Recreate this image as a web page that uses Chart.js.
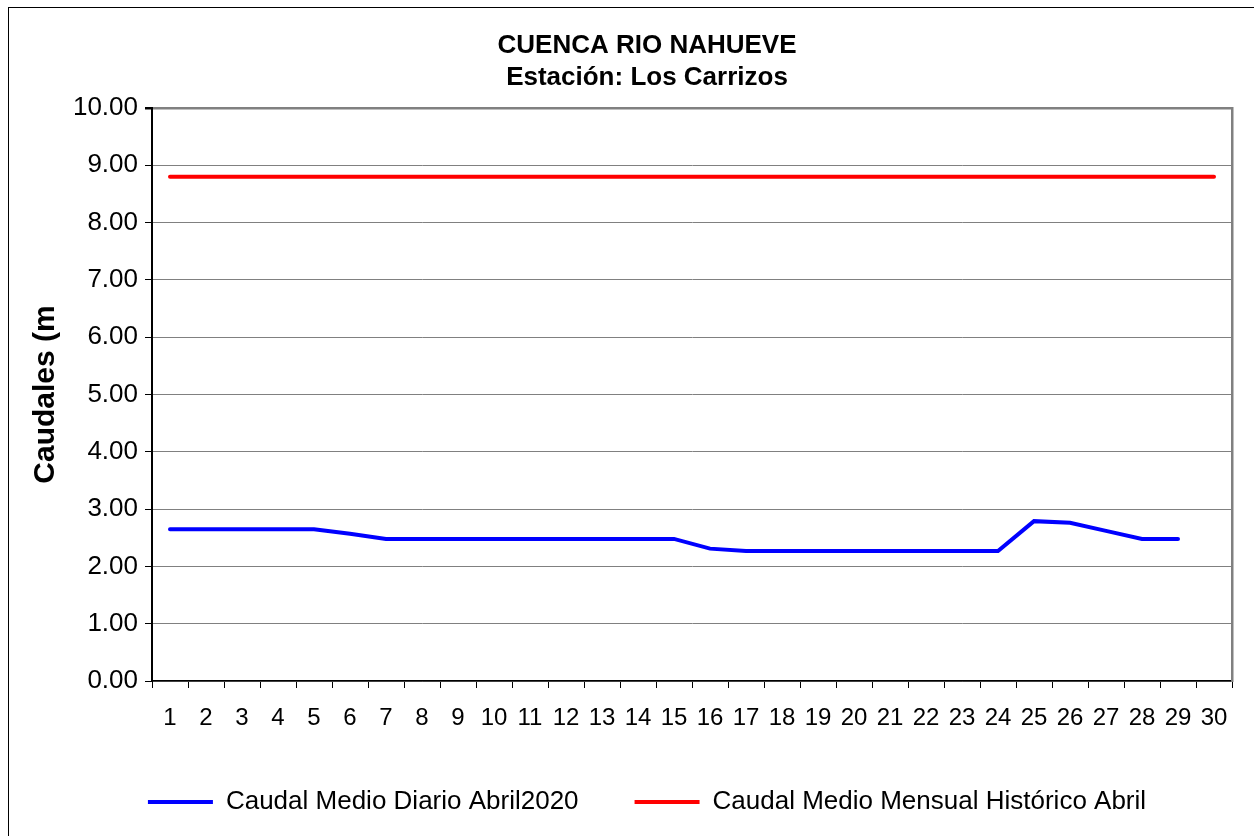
<!DOCTYPE html>
<html>
<head>
<meta charset="utf-8">
<script src="https://cdn.jsdelivr.net/npm/chart.js@4.4.1/dist/chart.umd.min.js"></script>
<style>
  html, body { margin: 0; padding: 0; background: #fff; }
  #wrap { position: relative; width: 1254px; height: 836px; overflow: hidden; }
  #chart { position: absolute; left: 0; top: 0; }
  #frame { position: absolute; left: 8px; top: 7px; width: 1300px; height: 900px; border: 1px solid #000; pointer-events: none; }
</style>
</head>
<body>
<div id="wrap">
  <canvas id="chart" width="1254" height="836"></canvas>
  <div id="frame"></div>
</div>
<script>
const titulo = ['CUENCA RIO NAHUEVE', 'Estación: Los Carrizos'];
const tituloEje = 'Caudales (m';

const dias = ['1', '2', '3', '4', '5', '6', '7', '8', '9', '10',
  '11', '12', '13', '14', '15', '16', '17', '18', '19', '20',
  '21', '22', '23', '24', '25', '26', '27', '28', '29', '30'];

// caudal medio diario abril 2020 (dia 30 sin dato)
const caudalDiario = [2.65, 2.65, 2.65, 2.65, 2.65, 2.57, 2.48, 2.48, 2.48, 2.48,
  2.48, 2.48, 2.48, 2.48, 2.48, 2.31, 2.27, 2.27, 2.27, 2.27,
  2.27, 2.27, 2.27, 2.27, 2.79, 2.76, 2.62, 2.48, 2.48, null];

const caudalHistorico = [8.80, 8.80, 8.80, 8.80, 8.80, 8.80, 8.80, 8.80, 8.80, 8.80,
  8.80, 8.80, 8.80, 8.80, 8.80, 8.80, 8.80, 8.80, 8.80, 8.80,
  8.80, 8.80, 8.80, 8.80, 8.80, 8.80, 8.80, 8.80, 8.80, 8.80];

Chart.defaults.font.family = '"Liberation Sans", Arial, sans-serif';
Chart.defaults.color = '#000';

new Chart(document.getElementById('chart'), {
  type: 'line',
  data: {
    labels: dias,
    datasets: [
      {
        label: 'Caudal Medio Diario Abril2020',
        data: caudalDiario,
        borderColor: '#0000ff',
        backgroundColor: '#0000ff',
        borderWidth: 4,
        borderCapStyle: 'round',
        pointRadius: 0,
        tension: 0
      },
      {
        label: 'Caudal Medio Mensual Histórico Abril',
        data: caudalHistorico,
        borderColor: '#ff0000',
        backgroundColor: '#ff0000',
        borderWidth: 4,
        borderCapStyle: 'round',
        pointRadius: 0,
        tension: 0
      }
    ]
  },
  options: {
    responsive: false,
    animation: false,
    layout: { padding: { top: 0, right: 0, bottom: 11, left: 40 } },
    plugins: {
      title: {
        display: true,
        text: titulo,
        color: '#000',
        font: { size: 26, weight: 'bold', lineHeight: 1.25 },
        padding: { top: 29.25, bottom: 13.75 }
      },
      legend: {
        position: 'bottom',
        labels: {
          usePointStyle: true,
          pointStyle: 'line',
          pointStyleWidth: 65,
          padding: 56,
          color: '#000',
          font: { size: 26 }
        }
      },
      tooltip: { enabled: false }
    },
    scales: {
      x: {
        offset: true,
        grid: { offset: true, drawOnChartArea: false, tickLength: 7, color: '#000' },
        border: { color: '#000', width: 1.5 },
        ticks: { autoSkip: false, maxRotation: 0, padding: 16, color: '#000', font: { size: 24 } },
        afterFit: (scale) => { scale.height = 52; }
      },
      y: {
        min: 0,
        max: 10,
        ticks: {
          stepSize: 1,
          padding: 7,
          color: '#000',
          font: { size: 26 },
          callback: (v) => v.toFixed(2)
        },
        grid: {
          color: '#808080',
          tickColor: '#000',
          tickLength: 7,
          lineWidth: (ctx) => (ctx.tick && ctx.tick.value === 10 ? 2.5 : 1)
        },
        border: { color: '#000', width: 2 },
        title: {
          display: true,
          text: tituloEje,
          color: '#000',
          font: { size: 30, weight: 'bold' },
          padding: { top: -12, bottom: 0 }
        },
        afterFit: (scale) => { scale.width = 112; }
      },
      y2: {
        position: 'right',
        min: 0,
        max: 10,
        ticks: { display: false },
        grid: { drawOnChartArea: false, drawTicks: false },
        border: { color: '#808080', width: 2.5 },
        afterFit: (scale) => { scale.width = 22; }
      }
    }
  }
});
</script>
</body>
</html>
